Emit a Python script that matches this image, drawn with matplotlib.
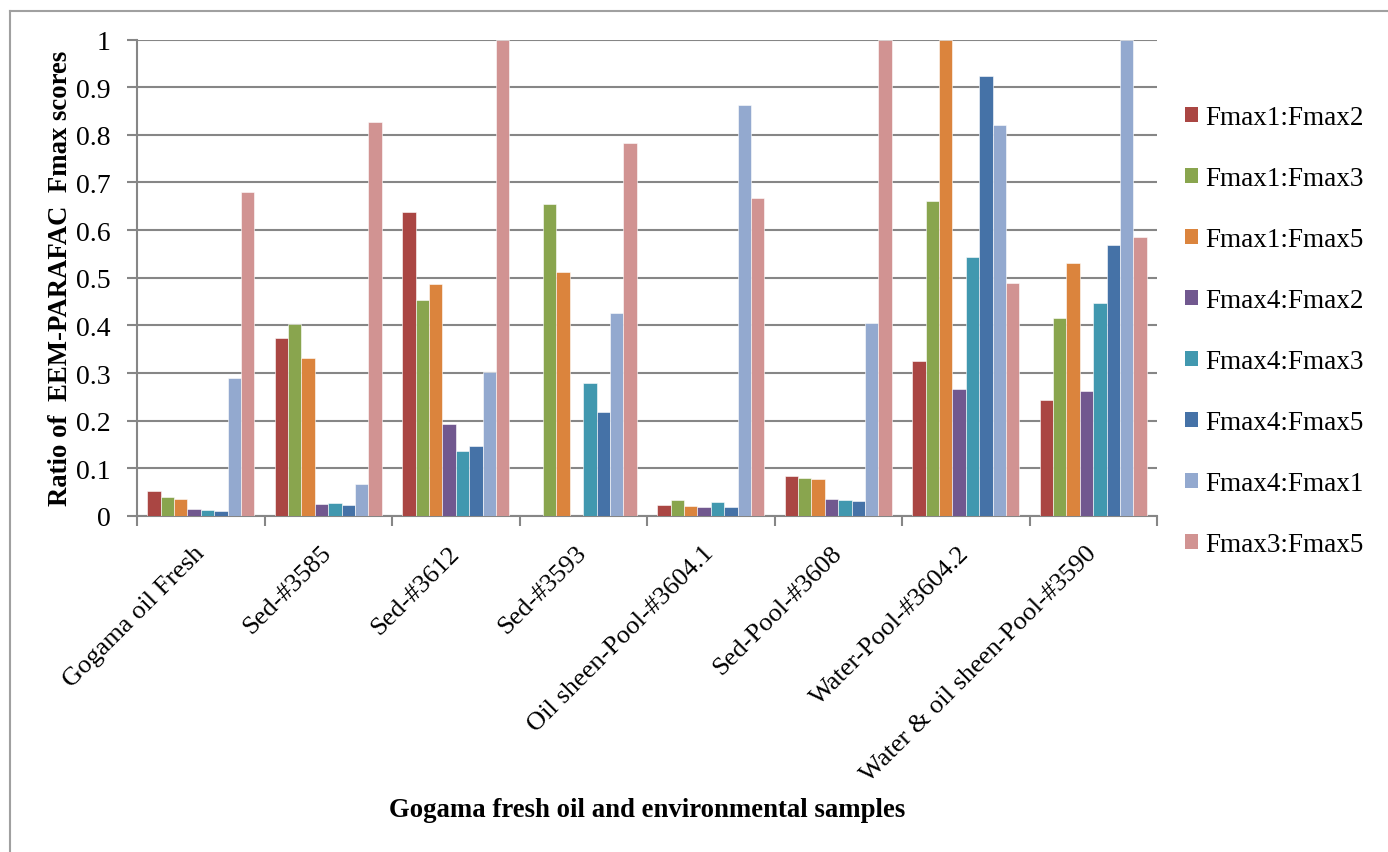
import numpy as np
import matplotlib.pyplot as plt
from matplotlib.patches import Patch
from matplotlib.lines import Line2D

samples = ['Gogama oil Fresh', 'Sed-#3585', 'Sed-#3612', 'Sed-#3593',
           'Oil sheen-Pool-#3604.1', 'Sed-Pool-#3608', 'Water-Pool-#3604.2',
           'Water & oil sheen-Pool-#3590']
ratios = ['Fmax1:Fmax2', 'Fmax1:Fmax3', 'Fmax1:Fmax5', 'Fmax4:Fmax2',
          'Fmax4:Fmax3', 'Fmax4:Fmax5', 'Fmax4:Fmax1', 'Fmax3:Fmax5']

f1_f2 = [0.052, 0.374, 0.639, 0.0, 0.024, 0.084, 0.325, 0.244]
f1_f3 = [0.040, 0.402, 0.453, 0.655, 0.034, 0.079, 0.662, 0.416]
f1_f5 = [0.036, 0.332, 0.486, 0.513, 0.022, 0.078, 1.0, 0.532]
f4_f2 = [0.015, 0.026, 0.194, 0.0, 0.019, 0.035, 0.267, 0.262]
f4_f3 = [0.012, 0.028, 0.137, 0.279, 0.030, 0.033, 0.544, 0.446]
f4_f5 = [0.010, 0.023, 0.147, 0.218, 0.019, 0.032, 0.924, 0.569]
f4_f1 = [0.290, 0.068, 0.303, 0.426, 0.862, 0.405, 0.821, 1.0]
f3_f5 = [0.680, 0.827, 1.0, 0.783, 0.668, 1.0, 0.489, 0.585]
series = [f1_f2, f1_f3, f1_f5, f4_f2, f4_f3, f4_f5, f4_f1, f3_f5]

colors = ['#AA4643', '#89A54E', '#DB843D', '#71588F',
          '#4198AF', '#4572A7', '#93A9CF', '#D19392']

plt.rcParams['font.family'] = ['Liberation Serif', 'DejaVu Serif']
grid_c = '#868686'

fig = plt.figure(figsize=(13.88, 8.53), dpi=100)
ax = fig.add_axes([137 / 1388, 1 - 517 / 853, 1020 / 1388, 476.5 / 853])

# chart frame (only the left and top edges fall inside the image)
fig.add_artist(Line2D([10 / 1388, 10 / 1388], [0, 1 - 12 / 853],
                      transform=fig.transFigure, color='#A0A0A0', lw=1.5))
fig.add_artist(Line2D([10 / 1388, 1], [1 - 12 / 853, 1 - 12 / 853],
                      transform=fig.transFigure, color='#A0A0A0', lw=1.5))

x = np.arange(len(samples)) + 0.5
w = 0.105
for i, (vals, c) in enumerate(zip(series, colors)):
    ax.bar(x + (i - 3.5) * w, vals, w, color=c, edgecolor='white',
           linewidth=0.4, zorder=3)

ax.set_xlim(0, len(samples))
ax.set_ylim(0, 1)
ax.set_yticks(np.arange(0, 1.01, 0.1))
ax.set_yticklabels(['0', '0.1', '0.2', '0.3', '0.4', '0.5', '0.6', '0.7',
                    '0.8', '0.9', '1'])
ax.set_xticks(np.arange(len(samples) + 1))
ax.set_xticklabels([])
ax.set_xticks(x, minor=True)
ax.set_xticklabels(samples, minor=True, rotation=45, ha='right', va='center',
                   rotation_mode='anchor', fontsize=19)
ax.tick_params(axis='x', which='minor', length=0, pad=24)
ax.tick_params(axis='x', which='major', length=7, width=1.5, color=grid_c)
ax.tick_params(axis='y', length=7, width=1.5, color=grid_c,
               labelsize=20, pad=12)

ax.grid(axis='y', color=grid_c, linewidth=1.5, zorder=0)
for s in ['top', 'right']:
    ax.spines[s].set_visible(False)
for s in ['left', 'bottom']:
    ax.spines[s].set_color(grid_c)
    ax.spines[s].set_linewidth(1.5)

ax.set_ylabel('Ratio of  EEM-PARAFAC  Fmax scores', fontsize=19.3,
              fontweight='bold')
ax.yaxis.set_label_coords(-0.063, 0.5)
fig.text(647 / 1388, 1 - 811 / 853, 'Gogama fresh oil and environmental samples',
         fontsize=19.3, fontweight='bold', ha='center', va='center')

handles = [Patch(facecolor=c, edgecolor='none') for c in colors]
fig.legend(handles, ratios, loc='upper left',
           bbox_to_anchor=(1174 / 1388, 1 - 95 / 853), frameon=False,
           fontsize=19.5, handlelength=0.5, handleheight=0.5,
           handletextpad=0.25, labelspacing=1.33, borderaxespad=0)

fig.savefig('out.png')
